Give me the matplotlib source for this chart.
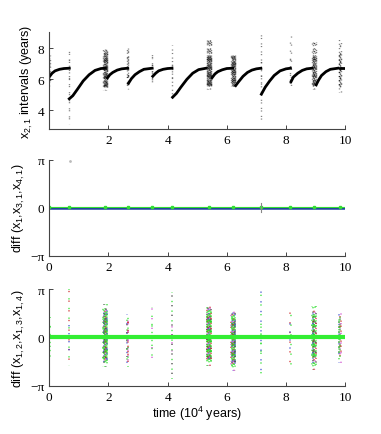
import numpy as np
import matplotlib
matplotlib.use("Agg")
import matplotlib.pyplot as plt

# === DATA ===
# top panel: smooth recovery segments after each reset, control points
seg_x = [
    [0.0, 0.1, 0.2, 0.35, 0.5, 0.68],
    [0.68, 0.8, 0.95, 1.15, 1.35, 1.55, 1.75, 1.9],
    [1.97, 2.05, 2.15, 2.3, 2.45, 2.65],
    [2.68, 2.78, 2.9, 3.05, 3.2, 3.48],
    [3.5, 3.6, 3.7, 3.85, 4.0, 4.15],
    [4.17, 4.3, 4.45, 4.65, 4.85, 5.05, 5.3],
    [5.5, 5.6, 5.7, 5.85, 6.0, 6.2],
    [6.3, 6.4, 6.55, 6.7, 6.85, 7.0, 7.15],
    [7.17, 7.3, 7.45, 7.6, 7.8, 8.0, 8.15],
    [8.17, 8.25, 8.4, 8.55, 8.7, 8.88],
    [9.02, 9.1, 9.2, 9.35, 9.5, 9.75],
    [9.82, 10.0],
]
seg_y = [
    [6.15, 6.4, 6.55, 6.65, 6.7, 6.72],
    [4.75, 4.95, 5.35, 5.9, 6.3, 6.58, 6.7, 6.72],
    [6.1, 6.3, 6.45, 6.6, 6.68, 6.72],
    [5.75, 6.05, 6.3, 6.5, 6.65, 6.72],
    [6.2, 6.4, 6.55, 6.65, 6.7, 6.72],
    [4.85, 5.1, 5.5, 6.0, 6.4, 6.63, 6.72],
    [6.1, 6.35, 6.5, 6.62, 6.7, 6.72],
    [5.6, 5.85, 6.2, 6.45, 6.6, 6.68, 6.72],
    [5.05, 5.5, 5.9, 6.25, 6.55, 6.68, 6.72],
    [5.85, 6.15, 6.4, 6.58, 6.68, 6.72],
    [5.65, 5.95, 6.25, 6.5, 6.65, 6.72],
    [6.72, 6.72],
]

# bursts: centre time, half width, y range (top, years) and y range (bottom, in units of pi)
burst_t = [0.0, 0.68, 1.90, 2.65, 3.48, 4.15, 5.40, 6.22, 7.15, 8.15, 8.95, 9.82]
burst_w = [0.02, 0.01, 0.07, 0.02, 0.015, 0.01, 0.08, 0.07, 0.01, 0.01, 0.06, 0.03]
top_lo = [5.6, 3.1, 5.3, 5.4, 5.6, 4.8, 5.4, 5.6, 3.2, 5.3, 5.4, 5.2]
top_hi = [7.6, 8.0, 8.1, 8.1, 7.9, 8.2, 8.6, 7.6, 9.1, 8.8, 8.4, 8.6]
top_core_lo = [5.8, 5.9, 5.5, 5.7, 5.9, 6.0, 5.6, 5.6, 5.8, 5.8, 5.6, 5.6]
top_core_hi = [7.4, 7.3, 7.7, 7.5, 7.4, 7.3, 7.6, 7.5, 7.4, 7.5, 7.6, 7.7]
bot_lo = [-0.56, -0.6, -0.62, -0.62, -0.52, -0.87, -0.6, -0.7, -0.83, -0.67, -0.67, -0.52]
bot_hi = [0.42, 1.0, 0.69, 0.48, 0.62, 0.94, 0.65, 0.54, 1.0, 0.62, 0.65, 0.54]
bot_core_lo = [-0.35, -0.3, -0.45, -0.4, -0.3, -0.3, -0.45, -0.5, -0.3, -0.3, -0.45, -0.35]
bot_core_hi = [0.3, 0.3, 0.5, 0.35, 0.35, 0.3, 0.5, 0.4, 0.3, 0.3, 0.45, 0.4]

dot_colors = ["#22dd22", "#cc2222", "#22dd22", "#3344cc", "#22dd22", "#333333",
              "#22dd22", "#cc44cc"]
offsets = [0.0, 2.1, 0.7, 3.3, 1.4, 2.8, 0.3, 1.9, 3.0, 1.1, 2.5, 0.5, 3.6, 1.6, 2.2]

plt.rcParams["mathtext.default"] = "regular"
serif = "Liberation Serif"
sans = "Liberation Sans"

fig = plt.figure(figsize=(3.81, 4.35), dpi=100)
ax1 = fig.add_axes([0.129, 0.701, 0.777, 0.223])
ax2 = fig.add_axes([0.129, 0.410, 0.777, 0.221])
ax3 = fig.add_axes([0.129, 0.111, 0.777, 0.222])


def style(ax):
    for s in ["top", "right"]:
        ax.spines[s].set_visible(False)
    for s in ["left", "bottom"]:
        ax.spines[s].set_linewidth(0.8)
        ax.spines[s].set_color("#444444")
    ax.tick_params(direction="in", length=3, width=0.7, colors="#444444",
                   labelcolor="black", labelsize=9.5)
    for lab in ax.get_xticklabels() + ax.get_yticklabels():
        lab.set_family(serif)
    ax.set_xlim(0, 10)


def columns(t, w):
    n = max(1, int(round(w / 0.012)))
    return np.linspace(t - w, t + w, 2 * n + 1) if n > 1 else [t - w / 2, t + w / 2]


def stipple(ax, k, lo, hi, clo, chi, colored):
    cols = columns(burst_t[k], burst_w[k])
    wide = burst_w[k] > 0.025
    lw = 1.2 if colored else 1.0
    alpha = 0.7 if colored else 0.5
    for j, cx in enumerate(cols):
        c = dot_colors[(j * 3 + k) % len(dot_colors)] if colored else "black"
        off = offsets[(j + k) % len(offsets)]
        ax.plot([cx, cx], [lo, hi], color=c, lw=lw, alpha=alpha,
                linestyle=(off, (0.8, 5.0)), solid_capstyle="butt")
        if wide or j % 2 == 0:
            c2 = dot_colors[(j * 5 + k + 2) % len(dot_colors)] if colored else "black"
            ax.plot([cx, cx], [clo, chi], color=c2, lw=lw, alpha=alpha,
                    linestyle=(off + 1.7, (0.8, 2.2 if wide else 4.0)),
                    solid_capstyle="butt")


# === TOP ===
for k in range(len(burst_t)):
    stipple(ax1, k, top_lo[k], top_hi[k], top_core_lo[k], top_core_hi[k], False)
for xs, ys in zip(seg_x, seg_y):
    ax1.plot(xs, ys, color="black", lw=2.0)
ax1.set_ylim(2.8, 9.05)
ax1.set_yticks([4, 6, 8])
ax1.set_xticks([2, 4, 6, 8, 10])
style(ax1)
ax1.set_ylabel("x$_{2,1}$ intervals (years)", family=sans, fontsize=9, labelpad=2)

# === MIDDLE ===
ax2.plot([0, 10], [0, 0], color="#1f3f9f", lw=1.8)
ax2.plot([0, 10], [0.04, 0.04], color="#33dd33", lw=0.8)
ax2.plot(burst_t, [0.04] * len(burst_t), "s", color="#33dd33", ms=1.8)
ax2.plot([7.15, 7.15], [-0.3, 0.3], color="#888888", lw=0.8)
ax2.plot([0.7], [np.pi * 0.97], ".", color="#bbbbbb", ms=2)
ax2.set_ylim(-np.pi, np.pi)
ax2.set_yticks([-np.pi, 0, np.pi])
ax2.set_yticklabels(["\u2212\u03c0", "0", "\u03c0"])
ax2.set_xticks(range(0, 11, 2))
style(ax2)
ax2.set_ylabel("diff (x$_{1}$,x$_{3,1}$,x$_{4,1}$)", family=sans, fontsize=9, labelpad=2)

# === BOTTOM ===
for k in range(len(burst_t)):
    stipple(ax3, k, bot_lo[k] * np.pi, bot_hi[k] * np.pi,
            bot_core_lo[k] * np.pi, bot_core_hi[k] * np.pi, True)
ax3.plot([0, 10], [0, 0], color="#33ee33", lw=3)
ax3.set_ylim(-np.pi, np.pi)
ax3.set_yticks([-np.pi, 0, np.pi])
ax3.set_yticklabels(["\u2212\u03c0", "0", "\u03c0"])
ax3.set_xticks(range(0, 11, 2))
style(ax3)
ax3.set_ylabel("diff (x$_{1,2}$,x$_{1,3}$,x$_{1,4}$)", family=sans, fontsize=9, labelpad=2)
ax3.set_xlabel("time (10$^{4}$ years)", family=sans, fontsize=9, labelpad=1)

fig.savefig("out.png", dpi=100)
